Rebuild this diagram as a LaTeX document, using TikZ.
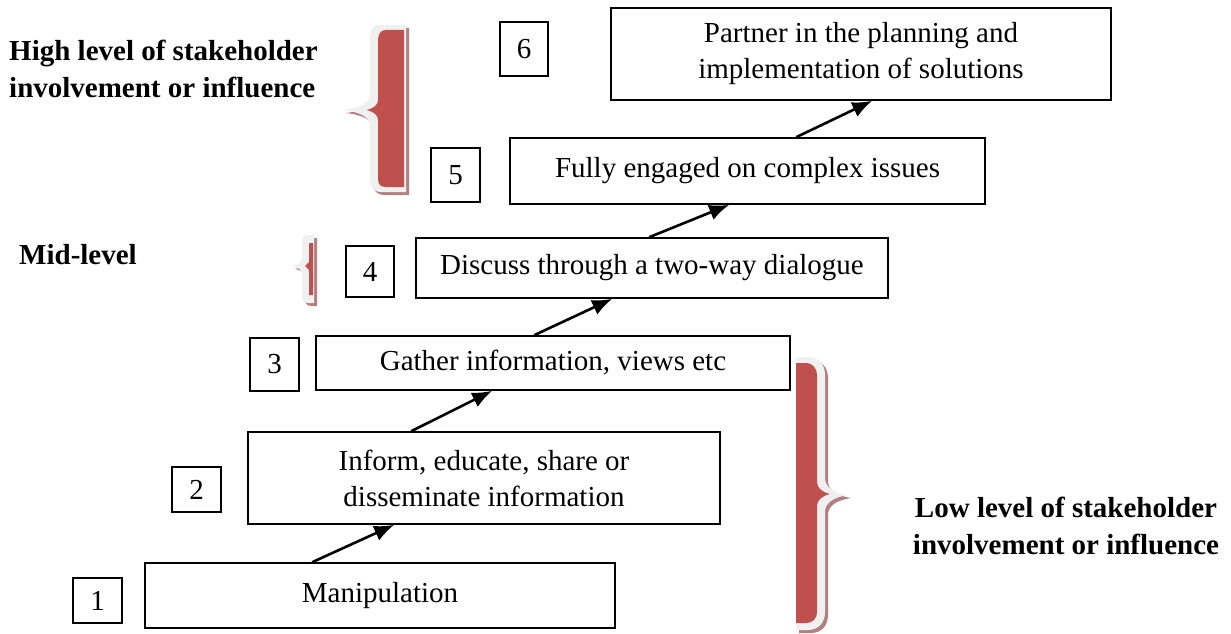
\documentclass[tikz,border=0pt]{standalone}
\usepackage{fontspec}
\setmainfont{Liberation Serif}
\usetikzlibrary{arrows.meta}
\definecolor{bracered}{RGB}{192,80,77}
\definecolor{braceedge}{RGB}{240,240,240}
\definecolor{braceshade}{RGB}{178,128,128}
\tikzset{
  stepbox/.style={draw, line width=1.6pt, inner sep=0pt, align=center,
    font=\fontsize{29}{36}\selectfont},
  numbox/.style={draw, line width=1.6pt, inner sep=0pt,
    font=\fontsize{29}{36}\selectfont},
  levellabel/.style={inner sep=0pt, font=\fontsize{29}{37}\selectfont\bfseries},
  climb/.style={line width=2.6pt, -{Latex[length=20pt,width=16pt]}},
}
\begin{document}
\begin{tikzpicture}[x=1pt,y=-1pt]
\useasboundingbox (0,0) rectangle (1231,634);

% ---- braces: shadow, pale rim, red body ----
% upper brace (points left)
\def\hibrace#1{(406+#1,25+#1) -- (380+#1,25+#1) .. controls (372+#1,25+#1) and (370+#1,30+#1) .. (370+#1,40+#1)
  -- (370+#1,94+#1) .. controls (370+#1,103+#1) and (360+#1,108+#1) .. (343+#1,110+#1)
  .. controls (360+#1,112+#1) and (370+#1,117+#1) .. (370+#1,126+#1)
  -- (370+#1,180+#1) .. controls (370+#1,188+#1) and (374+#1,192+#1) .. (382+#1,192+#1) -- (406+#1,192+#1) -- cycle}
\fill[braceshade] \hibrace{3};
\fill[braceedge] \hibrace{0};
\fill[bracered] (404,30) -- (386,30) .. controls (380,30) and (378,34) .. (378,42) -- (378,100)
  .. controls (378,105) and (374,108) .. (367,110) .. controls (374,112) and (378,115) .. (378,120)
  -- (378,179) .. controls (378,185) and (381,187) .. (386,187) -- (404,187) -- cycle;

% middle brace (points left)
\def\midbrace#1{(314+#1,235+#1) -- (308+#1,235+#1) .. controls (304+#1,235+#1) and (302+#1,238+#1) .. (302+#1,242+#1)
  -- (302+#1,258+#1) .. controls (302+#1,262+#1) and (298+#1,265+#1) .. (292+#1,266+#1)
  .. controls (298+#1,267+#1) and (302+#1,270+#1) .. (302+#1,274+#1)
  -- (302+#1,296+#1) .. controls (302+#1,300+#1) and (304+#1,303+#1) .. (308+#1,303+#1) -- (314+#1,303+#1) -- cycle}
\fill[braceshade] \midbrace{3};
\fill[braceedge] \midbrace{0};
\fill[bracered] (313,243) -- (309,243) -- (309,262) -- (305,266) -- (309,270) -- (309,295) -- (313,295) -- cycle;

% lower brace (points right)
\def\lobrace#1{(796+#1,357+#1) -- (808+#1,357+#1) .. controls (818+#1,357+#1) and (825+#1,364+#1) .. (825+#1,375+#1)
  -- (825+#1,478+#1) .. controls (825+#1,488+#1) and (835+#1,493+#1) .. (848+#1,495+#1)
  .. controls (835+#1,497+#1) and (825+#1,502+#1) .. (825+#1,512+#1)
  -- (825+#1,612+#1) .. controls (825+#1,623+#1) and (818+#1,630+#1) .. (808+#1,630+#1) -- (796+#1,630+#1) -- cycle}
\fill[braceshade] \lobrace{3};
\fill[braceedge] \lobrace{0};
\fill[bracered] (796,363) -- (805,363) .. controls (813,363) and (817,368) .. (817,376) -- (817,482)
  .. controls (817,488) and (822,492) .. (830,494) .. controls (822,496) and (817,500) .. (817,506)
  -- (817,611) .. controls (817,619) and (813,623) .. (805,623) -- (796,623) -- cycle;

% ---- level labels ----
\node[levellabel, align=left, anchor=west] (hi) at (9,69) {High level of stakeholder\\involvement or influence};
\node[levellabel, anchor=center] (mid) at (78,255) {Mid-level};
\node[levellabel, align=center] (lo) at (1066,526) {Low level of stakeholder\\involvement or influence};

% ---- steps ----
\node[stepbox, minimum width=470, minimum height=65] (b1) at (380,595.5) {Manipulation};
\node[stepbox, minimum width=472, minimum height=92] (b2) at (484,478) {Inform, educate, share or\\disseminate information};
\node[stepbox, minimum width=474, minimum height=54] (b3) at (553,363) {Gather information, views etc};
\node[stepbox, minimum width=472, minimum height=60] (b4) at (652,268) {Discuss through a two-way dialogue};
\node[stepbox, minimum width=475, minimum height=66] (b5) at (747.5,171) {Fully engaged on complex issues};
\node[stepbox, minimum width=500, minimum height=92] (b6) at (861,54) {Partner in the planning and\\implementation of solutions};

% ---- step numbers ----
\node[numbox, minimum width=49, minimum height=45] (n1) at (97.5,600.5) {1};
\node[numbox, minimum width=49, minimum height=45] (n2) at (196.5,489.5) {2};
\node[numbox, minimum width=49, minimum height=53] (n3) at (274.5,364.5) {3};
\node[numbox, minimum width=48, minimum height=51] (n4) at (370,271.5) {4};
\node[numbox, minimum width=49, minimum height=54] (n5) at (455.5,175) {5};
\node[numbox, minimum width=48, minimum height=54] (n6) at (524,49) {6};

% ---- climbing arrows ----
\draw[climb] ([xshift=168pt]b1.north west) -- ([xshift=147pt]b2.south west);
\draw[climb] ([xshift=164pt]b2.north west) -- ([xshift=177pt]b3.south west);
\draw[climb] ([xshift=219pt]b3.north west) -- ([xshift=197pt]b4.south west);
\draw[climb] ([xshift=234pt]b4.north west) -- ([xshift=220pt]b5.south west);
\draw[climb] ([xshift=287pt]b5.north west) -- ([xshift=262pt]b6.south west);
\end{tikzpicture}
\end{document}
